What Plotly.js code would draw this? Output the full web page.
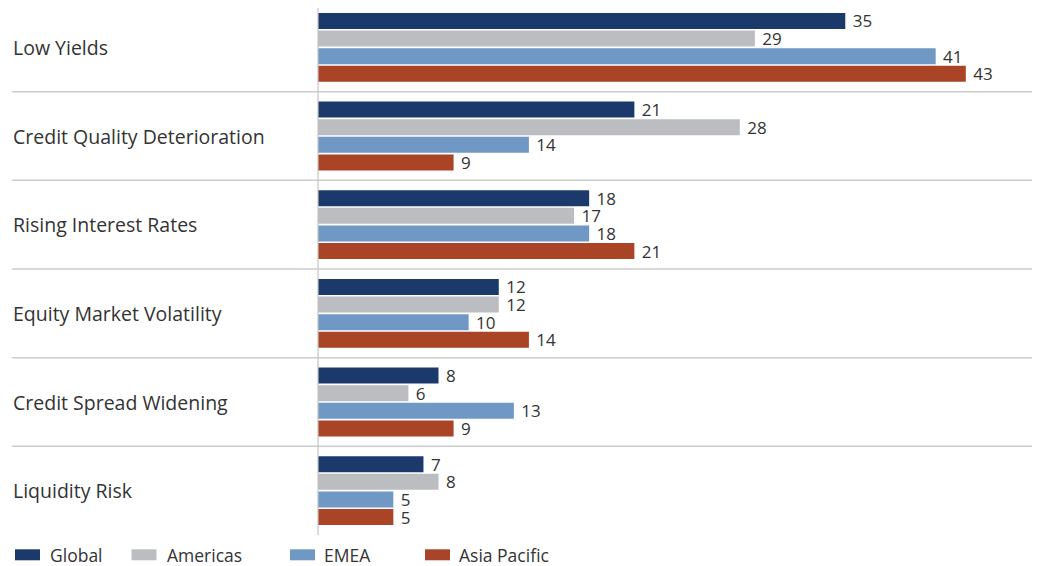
<!DOCTYPE html>
<html>
<head>
<meta charset="utf-8">
<script src="https://cdn.plot.ly/plotly-3.0.1.min.js"></script>
<style>html,body{margin:0;padding:0;background:#fff;}#chart{width:1039px;height:566px;}</style>
</head>
<body>
<div id="chart"></div>
<script>
// ---- data ----
const categories = ["Low Yields", "Credit Quality Deterioration", "Rising Interest Rates",
                    "Equity Market Volatility", "Credit Spread Widening", "Liquidity Risk"];
const seriesNames = ["Global", "Americas", "EMEA", "Asia Pacific"];
const globalVals   = [35, 21, 18, 12, 8, 7];
const americasVals = [29, 28, 17, 12, 6, 8];
const emeaVals     = [41, 14, 18, 10, 13, 5];
const asiaVals     = [43, 9, 21, 14, 9, 5];

// ---- style ----
const colors = ["#1b3a6b", "#bcbdc0", "#7098c5", "#a94426"];
const W = 1039, H = 566;
const M = {l: 318, r: 28, t: 3, b: 31};
const plotW = W - M.l - M.r, plotH = H - M.t - M.b;
const px2x = px => (px - M.l) / plotW;
const py2y = py => (H - M.b - py) / plotH;
const textColor = "#333333";
const font = "Open Sans, Liberation Sans, Arial, sans-serif";

const allVals = [globalVals, americasVals, emeaVals, asiaVals];
const traces = seriesNames.map((name, i) => ({
  type: "bar",
  orientation: "h",
  name: name,
  y: categories,
  x: allVals[i],
  marker: {color: colors[i]},
  text: allVals[i].map(v => " " + v),
  textposition: "outside",
  constraintext: "none",
  cliponaxis: false,
  textfont: {family: font, size: 17, color: textColor},
  hoverinfo: "x+name"
}));

const shapes = [];
const annotations = [];
// separators between categories
for (let i = 1; i < categories.length; i++) {
  const yp = 1 - i / categories.length;
  shapes.push({type: "line", xref: "paper", yref: "paper", x0: px2x(12), x1: px2x(1032),
               y0: yp, y1: yp, line: {color: "#cccccc", width: 1.5}});
}
// vertical axis line
shapes.push({type: "line", xref: "paper", yref: "paper", x0: 0, x1: 0,
             y0: 0, y1: py2y(8), line: {color: "#c4c4c4", width: 1.2}});
// category labels (left aligned)
categories.forEach(c => annotations.push({
  xref: "paper", yref: "y", x: px2x(11), y: c, xanchor: "left", yanchor: "middle",
  text: c, showarrow: false, font: {family: font, size: 19.5, color: textColor}
}));
// legend (manual, to match swatch shape/positions)
const legSwatchX = [15, 131.5, 290, 425];
const legTextX = [48, 164.5, 322, 456.5];
seriesNames.forEach((n, i) => {
  shapes.push({type: "rect", xref: "paper", yref: "paper",
               x0: px2x(legSwatchX[i]), x1: px2x(legSwatchX[i] + 25),
               y0: py2y(549.3), y1: py2y(560.3), fillcolor: colors[i], line: {width: 0}});
  annotations.push({xref: "paper", yref: "paper", x: px2x(legTextX[i]), y: py2y(554.5),
                    xanchor: "left", yanchor: "middle", text: n, showarrow: false,
                    font: {family: font, size: 17.5, color: textColor}});
});

const layout = {
  width: W, height: H,
  margin: M,
  paper_bgcolor: "#ffffff", plot_bgcolor: "#ffffff",
  barmode: "group",
  bargap: 0.206,
  bargroupgap: 0.09,
  showlegend: false,
  xaxis: {range: [0, 46], visible: false, fixedrange: true},
  yaxis: {type: "category", categoryorder: "array", categoryarray: categories,
          range: [categories.length - 0.5, -0.5], showticklabels: false,
          showgrid: false, zeroline: false, showline: false, ticks: "", fixedrange: true},
  shapes: shapes,
  annotations: annotations,
  font: {family: font, color: textColor}
};

Plotly.newPlot("chart", traces, layout, {displayModeBar: false, staticPlot: true});
</script>
</body>
</html>
